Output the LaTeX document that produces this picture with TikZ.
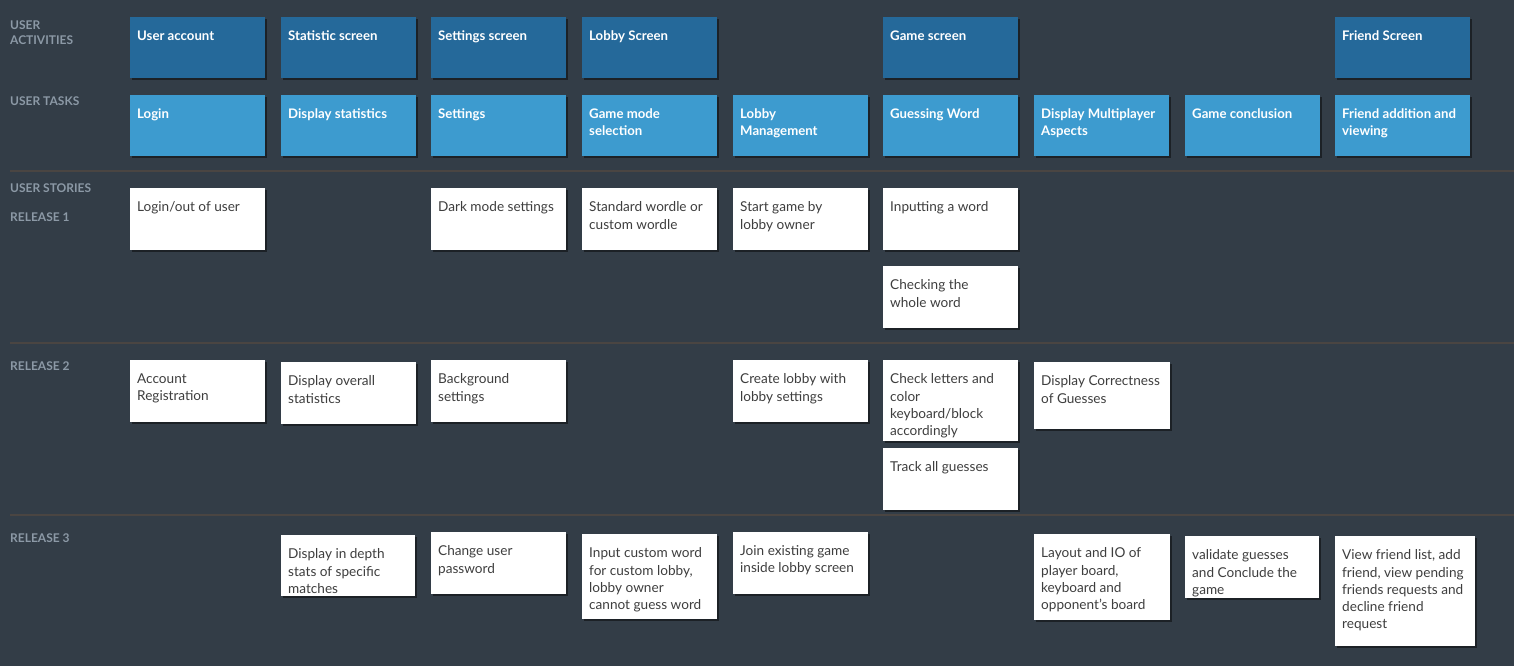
\documentclass[tikz,border=0pt]{standalone}
\usepackage{fontspec}
\setmainfont{Lato}
\usetikzlibrary{shadows}
\definecolor{bg}{HTML}{333D47}
\definecolor{act}{HTML}{25699A}
\definecolor{task}{HTML}{3D9BCF}
\definecolor{lbl}{HTML}{8C99A6}
\definecolor{sep}{HTML}{4A4542}
\definecolor{stxt}{HTML}{3E3E3E}
\tikzset{
  x=1pt, y=-1pt,
  box/.style={anchor=north west, inner sep=0pt, drop shadow={shadow xshift=2pt, shadow yshift=-2pt, opacity=0.45, fill=black}},
  actbox/.style={box, fill=act},
  taskbox/.style={box, fill=task},
  story/.style={box, fill=white},
  headtxt/.style={anchor=north west, inner sep=0pt, align=left, text=white, font=\fontsize{13.2}{17}\selectfont\bfseries},
  storytxt/.style={anchor=north west, inner sep=0pt, align=left, text=stxt, font=\fontsize{13.6}{17.3}\selectfont},
  rowlbl/.style={anchor=base west, inner sep=0pt, align=left, text=lbl, font=\fontsize{12}{15.5}\selectfont\bfseries},
  sepline/.style={draw=sep, line width=1.2pt}
}
\newcommand{\card}[8]{% name, style, x, y, w, h, txtstyle, text
  \node[#2, minimum width=#5pt, minimum height=#6pt] (#1) at (#3,#4) {};
  \node[#7] (#1t) at ([xshift=7pt,yshift=-13.5pt]#1.north west) {#8};
}
\begin{document}
\begin{tikzpicture}
\fill[bg] (0,0) rectangle (1514,666);
\useasboundingbox (0,0) rectangle (1514,666);
% separators
\coordinate (s1a) at (10,171); \coordinate (s1b) at (1514,171);
\coordinate (s2a) at (10,343); \coordinate (s2b) at (1514,343);
\coordinate (s3a) at (10,515); \coordinate (s3b) at (1514,515);
\draw[sepline] (s1a) -- (s1b);
\draw[sepline] (s2a) -- (s2b);
\draw[sepline] (s3a) -- (s3b);
% row labels
\node[rowlbl] (l1) at (10,45) {USER\\ACTIVITIES};
\node[rowlbl] (l2) at (10,105.5) {USER TASKS};
\node[rowlbl] (l3) at (10,192.5) {USER STORIES};
\node[rowlbl] (l4) at (10,221.5) {RELEASE 1};
\node[rowlbl] (l5) at (10,370.5) {RELEASE 2};
\node[rowlbl] (l6) at (10,542.5) {RELEASE 3};
% activities
\card{a1}{actbox}{130}{17}{135}{61}{headtxt}{User account}
\card{a2}{actbox}{281}{17}{135}{61}{headtxt}{Statistic screen}
\card{a3}{actbox}{431}{17}{135}{61}{headtxt}{Settings screen}
\card{a4}{actbox}{582}{17}{135}{61}{headtxt}{Lobby Screen}
\card{a5}{actbox}{883}{17}{135}{61}{headtxt}{Game screen}
\card{a6}{actbox}{1335}{17}{135}{61}{headtxt}{Friend Screen}
% tasks
\card{t1}{taskbox}{130}{95}{135}{61}{headtxt}{Login}
\card{t2}{taskbox}{281}{95}{135}{61}{headtxt}{Display statistics}
\card{t3}{taskbox}{431}{95}{135}{61}{headtxt}{Settings}
\card{t4}{taskbox}{582}{95}{135}{61}{headtxt}{Game mode\\selection}
\card{t5}{taskbox}{733}{95}{135}{61}{headtxt}{Lobby\\Management}
\card{t6}{taskbox}{883}{95}{135}{61}{headtxt}{Guessing Word}
\card{t7}{taskbox}{1034}{95}{135}{61}{headtxt}{Display Multiplayer\\Aspects}
\card{t8}{taskbox}{1185}{95}{135}{61}{headtxt}{Game conclusion}
\card{t9}{taskbox}{1335}{95}{135}{61}{headtxt}{Friend addition and\\viewing}
% release 1
\card{r11}{story}{130}{188}{135}{62}{storytxt}{Login/out of user}
\card{r12}{story}{431}{188}{135}{62}{storytxt}{Dark mode settings}
\card{r13}{story}{582}{188}{135}{62}{storytxt}{Standard wordle or\\custom wordle}
\card{r14}{story}{733}{188}{135}{62}{storytxt}{Start game by\\lobby owner}
\card{r15}{story}{883}{188}{135}{62}{storytxt}{Inputting a word}
\card{r16}{story}{883}{266}{135}{62}{storytxt}{Checking the\\whole word}
% release 2
\card{r21}{story}{130}{360}{135}{62}{storytxt}{Account\\Registration}
\card{r22}{story}{281}{362}{135}{62}{storytxt}{Display overall\\statistics}
\card{r23}{story}{431}{360}{135}{62}{storytxt}{Background\\settings}
\card{r24}{story}{733}{360}{135}{62}{storytxt}{Create lobby with\\lobby settings}
\card{r25}{story}{883}{360}{135}{81}{storytxt}{Check letters and\\color\\keyboard/block\\accordingly}
\card{r26}{story}{883}{448}{135}{62}{storytxt}{Track all guesses}
\card{r27}{story}{1034}{362}{136}{67}{storytxt}{Display Correctness\\of Guesses}
% release 3
\card{r31}{story}{281}{535}{134}{61}{storytxt}{Display in depth\\stats of specific\\matches}
\card{r32}{story}{431}{532}{135}{62}{storytxt}{Change user\\password}
\card{r33}{story}{582}{534}{135}{85}{storytxt}{Input custom word\\for custom lobby,\\lobby owner\\cannot guess word}
\card{r34}{story}{733}{532}{135}{62}{storytxt}{Join existing game\\inside lobby screen}
\card{r35}{story}{1034}{534}{136}{86}{storytxt}{Layout and IO of\\player board,\\keyboard and\\opponent's board}
\card{r36}{story}{1185}{536}{134}{62}{storytxt}{validate guesses\\and Conclude the\\game}
\card{r37}{story}{1335}{536}{140}{110}{storytxt}{View friend list, add\\friend, view pending\\friends requests and\\decline friend\\request}
\end{tikzpicture}
\end{document}
